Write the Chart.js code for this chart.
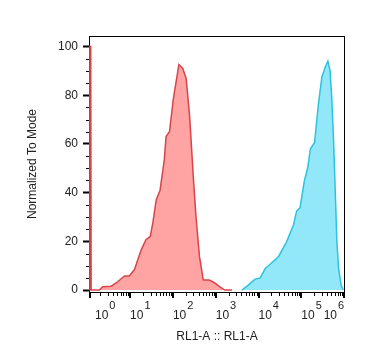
<!DOCTYPE html>
<html>
<head>
<meta charset="utf-8">
<script src="https://cdn.jsdelivr.net/npm/chart.js@4/dist/chart.umd.min.js"></script>
<style>
  html, body { margin: 0; padding: 0; background: #fff; }
  #wrap { width: 366px; height: 361px; }
</style>
</head>
<body>
<div id="wrap"><canvas id="histChart"></canvas></div>
<script>
// x values are in decades (log10 of RL1-A), y is % of mode
var redX = [0.05, 0.06, 0.08, 0.09, 0.28, 0.36, 0.56, 0.71, 0.87, 0.98, 1.10, 1.26, 1.37, 1.47, 1.53, 1.61, 1.70, 1.80, 1.84, 1.92, 2.01, 2.14, 2.23, 2.31, 2.39, 2.48, 2.54, 2.62, 2.71, 2.85, 2.97, 3.09, 3.21, 3.38];
var redY = [0, 100, 100, 0, 0, 1.4, 1.6, 3.4, 5.8, 5.8, 8.3, 16.5, 20.7, 22, 27.5, 37, 41, 53.7, 63, 65, 78.5, 92.6, 91, 86.8, 71.6, 45.5, 30, 13.8, 4.1, 4.1, 3, 1.4, 0, 0];
var blueX = [3.61, 3.76, 3.92, 4.04, 4.16, 4.27, 4.47, 4.66, 4.82, 4.89, 4.97, 5.07, 5.15, 5.21, 5.31, 5.36, 5.40, 5.48, 5.56, 5.62, 5.67, 5.71, 5.75, 5.79, 5.83, 5.87, 5.93, 5.98];
var blueY = [0, 2, 4.5, 5, 9, 10.6, 13.8, 20, 26.9, 32.4, 33.8, 44.8, 50.3, 57.9, 60.6, 69.5, 76.4, 87.5, 91.6, 94, 90.2, 79, 62.7, 42, 20, 9, 2, 0];
var decades = [0, 1, 2, 3, 4, 5, 6];
var yTicks = [0, 20, 40, 60, 80, 100];

function toPoints(xs, ys) {
    return xs.map(function (x, i) { return { x: x, y: ys[i] }; });
}

var FONT = '"Liberation Sans", Arial, sans-serif';

var axisDecor = {
    id: 'axisDecor',
    beforeDatasetsDraw: function (chart) {
        var ctx = chart.ctx, a = chart.chartArea, x = chart.scales.x, y = chart.scales.y;
        ctx.save();
        ctx.strokeStyle = '#000';
        ctx.lineWidth = 1;
        ctx.strokeRect(a.left + 0.5, a.top + 0.5, a.right - a.left - 1, a.bottom - a.top);
        // minor y ticks every 5
        for (var v = 5; v < 100; v += 5) {
            if (v % 20 === 0) continue;
            var py = Math.round(y.getPixelForValue(v)) + 0.5;
            ctx.beginPath();
            ctx.moveTo(a.left - 3, py);
            ctx.lineTo(a.left, py);
            ctx.stroke();
        }
        // x ticks
        decades.forEach(function (d) {
            var px = Math.max(a.left + 1, Math.round(x.getPixelForValue(d)));
            ctx.lineWidth = 2;
            ctx.beginPath();
            ctx.moveTo(px, a.bottom);
            ctx.lineTo(px, a.bottom + 6);
            ctx.stroke();
            if (d === 6) return;
            ctx.lineWidth = 1;
            for (var k = 2; k <= 9; k++) {
                var mx = Math.round(x.getPixelForValue(d + Math.log10(k))) + 0.5;
                ctx.beginPath();
                ctx.moveTo(mx, a.bottom);
                ctx.lineTo(mx, a.bottom + 4);
                ctx.stroke();
            }
        });
        ctx.restore();
    },
    afterDraw: function (chart) {
        var ctx = chart.ctx, a = chart.chartArea, x = chart.scales.x;
        ctx.save();
        ctx.fillStyle = '#222';
        ctx.textBaseline = 'alphabetic';
        ctx.textAlign = 'left';
        decades.forEach(function (d, i) {
            var px = x.getPixelForValue(d);
            ctx.font = '12px ' + FONT;
            var w = ctx.measureText('10').width;
            ctx.font = '11px ' + FONT;
            var we = ctx.measureText(String(d)).width;
            var left = px;
            if (i === 0) left = a.left + 6;
            if (i === decades.length - 1) left = px - w - we - 1;
            ctx.font = '12px ' + FONT;
            ctx.fillText('10', left, a.bottom + 27);
            ctx.font = '11px ' + FONT;
            ctx.fillText(String(d), left + w + 1, a.bottom + 17);
        });
        ctx.restore();
    }
};

var ctx = document.getElementById('histChart').getContext('2d');
var histChart = new Chart(ctx, {
    type: 'scatter',
    data: {
        datasets: [{
            data: toPoints(redX, redY),
            showLine: true,
            borderColor: '#d6454b',
            backgroundColor: '#ffa3a3',
            borderWidth: 1.5,
            pointRadius: 0,
            fill: 'origin',
            tension: 0
        }, {
            data: toPoints(blueX, blueY),
            showLine: true,
            borderColor: '#2ec2dd',
            backgroundColor: '#92e8f9',
            borderWidth: 1.5,
            pointRadius: 0,
            fill: 'origin',
            tension: 0
        }]
    },
    options: {
        responsive: true,
        maintainAspectRatio: false,
        animation: false,
        layout: { padding: { left: 0, right: 21, top: 36, bottom: 0 } },
        plugins: {
            legend: { display: false },
            tooltip: { enabled: false }
        },
        scales: {
            x: {
                type: 'linear',
                min: 0.04,
                max: 6.02,
                grid: { display: false },
                border: { display: false },
                ticks: { display: false },
                title: {
                    display: true,
                    text: 'RL1-A :: RL1-A',
                    color: '#222',
                    font: { family: FONT, size: 12 },
                    padding: { top: 0, bottom: 17 }
                },
                afterFit: function (s) { s.height = 361 - 292; }
            },
            y: {
                min: -0.8,
                max: 104.3,
                afterBuildTicks: function (s) {
                    s.ticks = yTicks.map(function (v) { return { value: v }; });
                },
                grid: {
                    drawOnChartArea: false,
                    drawTicks: true,
                    tickLength: 6,
                    tickWidth: 2,
                    tickColor: '#000'
                },
                border: { display: false },
                ticks: {
                    color: '#222',
                    padding: 5,
                    font: { family: FONT, size: 12 }
                },
                title: {
                    display: true,
                    text: 'Normalized To Mode',
                    color: '#222',
                    font: { family: FONT, size: 12 },
                    padding: { top: 25, bottom: 0 }
                },
                afterFit: function (s) { s.width = 89; }
            }
        }
    },
    plugins: [axisDecor]
});
</script>
</body>
</html>
